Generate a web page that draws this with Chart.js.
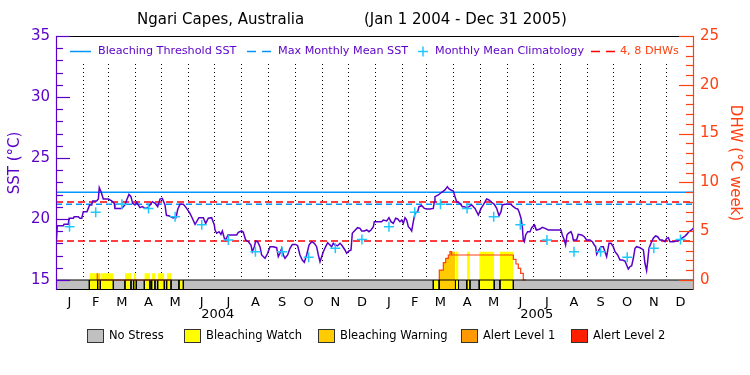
<!DOCTYPE html>
<html><head><meta charset="utf-8">
<script src="https://cdn.jsdelivr.net/npm/chart.js@4/dist/chart.umd.min.js"></script>
<style>html,body{margin:0;padding:0;background:#fff;}</style>
</head><body>
<canvas id="c" width="750" height="375"></canvas>
<script>
// ---------- DATA ----------
const titleLeft = 'Ngari Capes, Australia';
const titleRight = '(Jan 1 2004 - Dec 31 2005)';
const monthLetters = ['J','F','M','A','M','J','J','A','S','O','N','D'];
const yearLabels = ['2004','2005'];
const monthLen = [31,29,31,30,31,30,31,31,30,31,30,31, 31,28,31,30,31,30,31,31,30,31,30,31];

// daily SST (day index from Jan 1 2004)
const sstDays = [0.3,1.5,8.4,9.2,14.1,15,19.9,20.8,25.5,27.5,29.5,31.3,35.5,37.0,38.5,40.9,42.0,46.6,48.5,49.6,51.6,54.2,60.0,63.8,66.8,67.5,75.2,79.0,81.0,83.6,85.9,87.8,90.5,92.4,96.2,98.9,102.0,105.0,107.7,110.4,113.4,116.5,119.2,121.8,124.9,126.5,130.0,133.5,137.5,139.5,142.0,146.0,149.7,153.5,156.2,159.3,163.8,168.8,171.5,174.5,178.3,181.4,
182.2,184.1,186.8,189.0,190.6,192.9,194.4,197,207.0,208.9,212.7,214.6,217.3,220.4,223.4,224.9,227.2,228.8,231.0,233.7,235.6,239.5,242.5,245.2,249.0,252.8,254.7,256.6,258.6,260.5,262.4,265.4,268.1,270.8,274.6,276.9,279.5,282.2,284.5,287.2,289.9,292.9,296.0,298.6,300.6,302.5,304.4,306.3,309.0,311.3,313.9,315.8,317.7,319.7,322.7,325.4,327.3,331.1,333.0,335.7,338.0,339.5,341.8,345.6,348.3,350.2,353.3,356.0,358.6,360.9,363.6,364.7,
365.5,373.1,375.0,378.9,381.5,383.8,386.5,389.2,391.5,394.1,396.1,398.0,399.9,401.8,403.7,405.6,407.5,409.4,411.3,414.4,415.9,419.0,422.0,424.7,428.5,432.3,433.5,434.2,438.1,441.9,445.7,448.4,450.3,452.6,455.2,457.2,459.1,462.9,465.6,467.8,470.5,473.2,476.3,480.1,483.9,487.0,489.6,493.4,496.1,499.2,502.2,504.9,507.6,509.9,511.4,514.4,517.5,521.3,524.0,526.7,529.0,530.5,532.8,534.3,535.4,536.6,538.1,540.4,543.1,545.0,548.1,
548.8,550.7,554.5,557.2,560.3,564.1,578.6,580.1,582.4,583.9,585.5,587.0,590.0,591.6,592.7,596.5,598.4,602.3,605.3,608.0,611.8,614.5,616.8,618.3,619.5,622.1,624.4,627.1,629.0,630.9,633.6,635.9,638.5,640.5,643.5,646.2,648.9,651.9,653.8,655.7,657.6,659.6,661.5,663.4,665.3,669.1,673.0,674.8,676.7,677.9,679.4,681.7,684.4,687.0,689.3,692.0,694.7,697.7,699.7,701.6,703.5,707.3,711.1,714.9,716.8,719.9,722.6,725.2,728.3,731.0];
const sstValues = [18.1,19.45,19.45,19.56,19.56,20.06,20.06,20.19,20.19,20.06,20.06,20.6,20.6,20.87,21.15,21.15,21.48,21.48,21.64,22.57,22.24,21.64,21.64,21.48,21.28,20.87,20.87,21.15,21.56,22.02,21.83,21.28,21.15,21.37,20.93,21.01,20.87,20.93,21.15,21.42,21.28,21.01,21.64,21.69,21.15,20.3,20.25,20.1,20.1,20.8,21.2,21.2,20.87,20.46,20.06,19.56,20.11,20.11,19.64,20.06,20.11,19.51,
19.10,18.83,18.96,18.74,19.02,18.42,18.28,18.69,18.69,18.91,19.02,18.91,18.28,18.14,17.87,17.32,17.73,18.20,18.14,17.73,17.05,16.78,17.19,17.73,17.73,17.65,16.91,17.19,17.60,17.05,16.78,17.05,17.60,17.92,17.92,17.81,17.05,16.64,16.45,17.05,17.87,18.14,18.01,17.73,17.05,16.50,16.91,17.32,17.73,18.06,17.87,17.73,18.01,17.87,17.81,18.01,17.87,17.46,17.19,17.38,17.46,18.83,19.02,19.29,19.23,19.02,19.02,19.10,18.96,19.10,19.37,19.78,
19.78,19.78,19.92,19.84,20.11,19.78,19.64,20.06,20.0,19.78,19.92,19.64,20.11,19.92,19.37,19.23,19.02,19.78,20.46,20.60,21.01,21.09,20.87,20.82,20.82,20.87,21.42,21.83,21.97,22.19,22.38,22.65,22.46,22.38,22.30,21.83,21.42,21.28,21.01,21.01,20.93,21.01,21.15,20.87,20.33,20.87,21.15,21.64,21.56,21.37,21.20,20.87,20.27,20.60,21.15,21.20,21.20,21.20,21.01,20.87,20.82,20.60,20.06,19.37,18.28,18.14,18.69,18.96,18.96,19.29,19.51,
19.37,19.10,19.18,19.32,19.23,19.10,19.10,18.69,18.28,17.87,18.69,18.83,18.96,18.69,18.28,18.28,18.74,18.69,18.55,18.28,18.28,18.14,17.87,17.73,17.10,17.46,17.73,17.73,17.32,16.91,18.01,18.01,17.73,17.32,17.05,16.64,16.64,16.56,16.23,15.90,16.09,16.17,16.78,17.60,17.73,17.65,17.46,16.37,15.77,16.50,17.60,18.01,18.42,18.61,18.55,18.28,18.28,18.14,18.42,18.47,18.14,18.14,18.20,18.28,18.42,18.55,18.74,18.96,19.10,19.30];

const climMonthly = [19.37,20.55,21.20,20.87,20.19,19.53,18.28,17.32,17.32,16.87,17.60,18.32];
const maxMonthlyMean = 21.2;
const bleachingThreshold = 22.2;
const dhwGuides = [4, 8];

// DHW step changes (day, new value)
const dhwDays   = [47.3,132.6,439.2,443.8,446.5,449.5,451.4,453.3,524.0,527.0,529.7,532.4,535.4,538.5];
const dhwValues = [0.7, 0,    0.41, 1.02, 1.78, 2.22, 2.56, 2.90, 2.56, 2.12, 1.64, 1.2,  0.68, 0];

// stress level segments (1 watch, 2 warning, 3 alert 1, 4 alert 2)
const stressStart = [38.2,47.7,50.8,79.0,89.0,101.2,109.6,116.5,126.8,140.9,432.3,439.0,457.7,470.7,484.9,508.7];
const stressEnd   = [47.7,50.8,65.7,85.9,92.0,107.7,113.4,124.1,131.8,145.9,439.0,457.7,461.2,474.3,502.1,524.0];
const stressLevel = [1,2,1,1,1,1,1,1,1,1,1,2,1,1,1,1];
const stressNames = ['No Stress','Bleaching Watch','Bleaching Warning','Alert Level 1','Alert Level 2'];
const stressColors = ['#c0c0c0','#ffff00','#ffcc00','#ff9900','#ff2000'];

// ---------- STYLE ----------
const PURPLE = '#5a00c8', CYAN = '#0096ff', CLIM = '#1ec8ff', RED = '#ff0000', ORANGE = '#ff4010';
const FONT = 'DejaVu Sans';
const Y_MIN = 35 - 20 * 254 / 244;      // leaves room for the stress bar below 15
const Y2_MIN = 25 - 25 * 254 / 244;

// ---------- derived tables ----------
const monthStarts = []; let acc = 0;
monthLen.forEach(l => { monthStarts.push(acc); acc += l; });
const TOTAL = acc;
const monthMids = monthStarts.map((s, i) => s + monthLen[i] / 2);
const monthBounds = monthStarts.slice(1);

function dhwAt(d) { let v = 0; for (let i = 0; i < dhwDays.length; i++) { if (dhwDays[i] <= d) v = dhwValues[i]; else break; } return v; }

const sstData = sstDays.map((d, i) => ({x: d, y: sstValues[i]}));
const climData = monthMids.map((m, i) => ({x: m, y: climMonthly[i % 12]}));

const dhwOutline = [];
{ let prev = 0;
  dhwDays.forEach((d, i) => { const v = dhwValues[i];
    if (prev === 0 && v > 0) { dhwOutline.push({x: d, y: 0}, {x: d, y: v}); }
    else if (v === 0) { dhwOutline.push({x: d, y: 0}, {x: d, y: null}); }
    else dhwOutline.push({x: d, y: v});
    prev = v; });
}

function barFill(level) {
  const pts = [];
  stressStart.forEach((s, i) => { if (stressLevel[i] === level) pts.push({x: s, y: 0}, {x: stressEnd[i], y: 0}, {x: stressEnd[i], y: null}); });
  return pts;
}
function dhwFill(level) {
  const pts = [];
  stressStart.forEach((s, i) => {
    if (stressLevel[i] !== level) return;
    const e = stressEnd[i];
    pts.push({x: s, y: dhwAt(s)});
    dhwDays.forEach(d => { if (d > s && d < e) pts.push({x: d, y: dhwAt(d)}); });
    pts.push({x: e, y: dhwAt(e - 1e-6)}, {x: e, y: null});
  });
  return pts;
}
const bounds = [...new Set(stressStart.concat(stressEnd))];
const dividers = [];
bounds.forEach(b => dividers.push({x: b, y: 0}, {x: b, y: Y2_MIN}, {x: b, y: null}));

const datasets = [
  {data: [{x: 0, y: 0}, {x: TOTAL, y: 0}], yAxisID: 'y2', borderColor: 'rgba(0,0,0,0)', borderWidth: 0, fill: {value: Y2_MIN}, backgroundColor: stressColors[0], order: 100},
];
[1, 2, 3, 4].forEach(l => {
  datasets.push({data: barFill(l), yAxisID: 'y2', stepped: 'after', spanGaps: false, borderColor: 'rgba(0,0,0,0)', borderWidth: 0, fill: {value: Y2_MIN}, backgroundColor: stressColors[l], order: 90});
  datasets.push({data: dhwFill(l), yAxisID: 'y2', stepped: 'after', spanGaps: false, borderColor: 'rgba(0,0,0,0)', borderWidth: 0, fill: {value: 0}, backgroundColor: stressColors[l], order: 90});
});
datasets.push(
  {data: dividers, yAxisID: 'y2', spanGaps: false, borderColor: '#000', borderWidth: 1, order: 80},
  {data: dhwOutline, yAxisID: 'y2', stepped: 'after', spanGaps: false, borderColor: ORANGE, borderWidth: 1.2, order: 70},
  {data: [{x: 0, y: 0}, {x: TOTAL, y: 0}], yAxisID: 'y2', borderColor: '#000', borderWidth: 1.2, order: 65},
  ...dhwGuides.map(g => ({data: [{x: 0, y: g}, {x: TOTAL, y: g}], yAxisID: 'y2', borderColor: RED, borderWidth: 1.5, borderDash: [7, 4], order: 60})),
  {data: [{x: 0, y: bleachingThreshold}, {x: TOTAL, y: bleachingThreshold}], yAxisID: 'y', borderColor: CYAN, borderWidth: 1.5, order: 50},
  {data: [{x: 0, y: maxMonthlyMean}, {x: TOTAL, y: maxMonthlyMean}], yAxisID: 'y', borderColor: CYAN, borderWidth: 1.5, borderDash: [6, 4], order: 50},
  {data: sstData, yAxisID: 'y', borderColor: PURPLE, borderWidth: 1.5, order: 40},
  {type: 'scatter', data: climData, yAxisID: 'y', showLine: false, pointStyle: 'cross', pointRadius: 5, pointBorderWidth: 1.5, pointBorderColor: CLIM, pointBackgroundColor: CLIM, order: 30}
);
datasets.forEach(d => { d.xAxisID = 'x'; d.pointRadius = d.pointRadius || 0; });

const deco = {
  id: 'deco',
  afterDraw(chart) {
    const ctx = chart.ctx, ca = chart.chartArea;
    const ys = chart.scales.y, y2s = chart.scales.y2, xs = chart.scales.x;
    ctx.save();
    // legend band
    ctx.fillStyle = '#fff';
    ctx.fillRect(ca.left + 1, ca.top + 1, ca.right - ca.left - 2, 27);
    // frame
    ctx.lineWidth = 1.2;
    ctx.strokeStyle = '#000';
    ctx.beginPath(); ctx.moveTo(ca.left, ca.top + 0.5); ctx.lineTo(ca.right, ca.top + 0.5); ctx.stroke();
    ctx.beginPath(); ctx.moveTo(ca.left, ca.bottom - 0.5); ctx.lineTo(ca.right, ca.bottom - 0.5); ctx.stroke();
    ctx.strokeStyle = PURPLE;
    ctx.beginPath(); ctx.moveTo(ca.left + 0.5, ca.top); ctx.lineTo(ca.left + 0.5, ca.bottom); ctx.stroke();
    ctx.strokeStyle = ORANGE;
    ctx.beginPath(); ctx.moveTo(ca.right - 0.5, ca.top); ctx.lineTo(ca.right - 0.5, ca.bottom); ctx.stroke();
    // tick marks
    ctx.lineWidth = 1.2;
    for (let v = 15; v <= 35; v++) {
      const y = Math.round(ys.getPixelForValue(v)) + 0.5, len = v % 5 === 0 ? 14 : 7;
      ctx.strokeStyle = PURPLE; ctx.beginPath(); ctx.moveTo(ca.left, y); ctx.lineTo(ca.left + len, y); ctx.stroke();
    }
    for (let v = 0; v <= 25; v++) {
      const y = Math.round(y2s.getPixelForValue(v)) + 0.5, len = v % 5 === 0 ? 15 : 8;
      ctx.strokeStyle = ORANGE; ctx.beginPath(); ctx.moveTo(ca.right, y); ctx.lineTo(ca.right - len, y); ctx.stroke();
    }
    // title
    ctx.fillStyle = '#000'; ctx.textBaseline = 'middle'; ctx.textAlign = 'left';
    ctx.font = '15px "' + FONT + '"';
    ctx.fillText(titleLeft, 137, 20);
    ctx.fillText(titleRight, 364, 20);
    // in-plot legend
    const ly = 51.5;
    ctx.font = '11.2px "' + FONT + '"';
    ctx.lineWidth = 1.5;
    ctx.strokeStyle = CYAN; ctx.beginPath(); ctx.moveTo(70, ly); ctx.lineTo(91, ly); ctx.stroke();
    ctx.fillStyle = PURPLE; ctx.fillText('Bleaching Threshold SST', 98, ly);
    ctx.beginPath(); ctx.moveTo(247, ly); ctx.lineTo(256, ly); ctx.moveTo(262, ly); ctx.lineTo(271, ly); ctx.stroke();
    ctx.fillText('Max Monthly Mean SST', 278, ly);
    ctx.strokeStyle = CLIM; ctx.beginPath(); ctx.moveTo(418, ly); ctx.lineTo(428, ly); ctx.moveTo(423, ly - 5); ctx.lineTo(423, ly + 5); ctx.stroke();
    ctx.fillText('Monthly Mean Climatology', 435, ly);
    ctx.strokeStyle = RED; ctx.beginPath(); ctx.moveTo(591, ly); ctx.lineTo(600, ly); ctx.moveTo(606, ly); ctx.lineTo(615, ly); ctx.stroke();
    ctx.fillStyle = ORANGE; ctx.fillText('4, 8 DHWs', 620, ly);
    // years
    ctx.fillStyle = '#000'; ctx.textAlign = 'center'; ctx.font = '13px "' + FONT + '"';
    yearLabels.forEach((yl, i) => {
      const s = monthStarts[i * 12], e = i === 0 ? monthStarts[12] : TOTAL;
      ctx.fillText(yl, xs.getPixelForValue((s + e) / 2) + 2, 315);
    });
    // bottom legend
    const bx = [87, 184, 318, 461, 571];
    ctx.textAlign = 'left'; ctx.font = '11.5px "' + FONT + '"';
    stressNames.forEach((n, i) => {
      ctx.fillStyle = stressColors[i]; ctx.fillRect(bx[i], 329, 17, 14);
      ctx.strokeStyle = '#333'; ctx.lineWidth = 1; ctx.strokeRect(bx[i] + 0.5, 329.5, 16, 13);
      ctx.fillStyle = '#000'; ctx.fillText(n, bx[i] + 22, 336.5);
    });
    ctx.restore();
  }
};

new Chart(document.getElementById('c'), {
  type: 'line',
  data: {datasets},
  options: {
    responsive: false, animation: false, devicePixelRatio: 1,
    layout: {padding: {top: 36, left: 0, right: 0, bottom: 0}},
    plugins: {legend: {display: false}, tooltip: {enabled: false}},
    elements: {line: {tension: 0}, point: {radius: 0}},
    scales: {
      x: {type: 'linear', min: 0, max: TOTAL, position: 'bottom',
          afterBuildTicks: s => { s.ticks = monthMids.map(v => ({value: v})); },
          afterFit: s => { s.height = 375 - 290; },
          ticks: {autoSkip: false, maxRotation: 0, minRotation: 0, padding: 5, color: '#000', font: {family: FONT, size: 13},
                  callback: (v, i) => monthLetters[i % 12]},
          grid: {display: false, drawTicks: false}, border: {display: false}},
      xg: {type: 'linear', min: 0, max: TOTAL, position: 'bottom',
          afterBuildTicks: s => { s.ticks = monthBounds.map(v => ({value: v})); },
          afterFit: s => { s.height = 0; },
          ticks: {display: false},
          grid: {display: true, color: '#000', lineWidth: 1, drawTicks: false},
          border: {display: false, dash: [1, 3]}},
      y: {type: 'linear', position: 'left', min: Y_MIN, max: 35,
          afterBuildTicks: s => { s.ticks = [15, 20, 25, 30, 35].map(v => ({value: v})); },
          afterFit: s => { s.width = 56; },
          ticks: {color: PURPLE, padding: 6, font: {family: FONT, size: 15}},
          grid: {display: false, drawTicks: false}, border: {display: false},
          title: {display: true, text: 'SST (°C)', color: PURPLE, font: {family: FONT, size: 15}, padding: {top: 6, bottom: 0}}},
      y2: {type: 'linear', position: 'right', min: Y2_MIN, max: 25,
          afterBuildTicks: s => { s.ticks = [0, 5, 10, 15, 20, 25].map(v => ({value: v})); },
          afterFit: s => { s.width = 56; },
          ticks: {color: ORANGE, padding: 6, font: {family: FONT, size: 15}},
          grid: {display: false, drawTicks: false}, border: {display: false},
          title: {display: true, text: 'DHW (°C week)', color: ORANGE, font: {family: FONT, size: 15}, padding: {top: 6, bottom: 0}}}
    }
  },
  plugins: [deco]
});
</script>
</body></html>
